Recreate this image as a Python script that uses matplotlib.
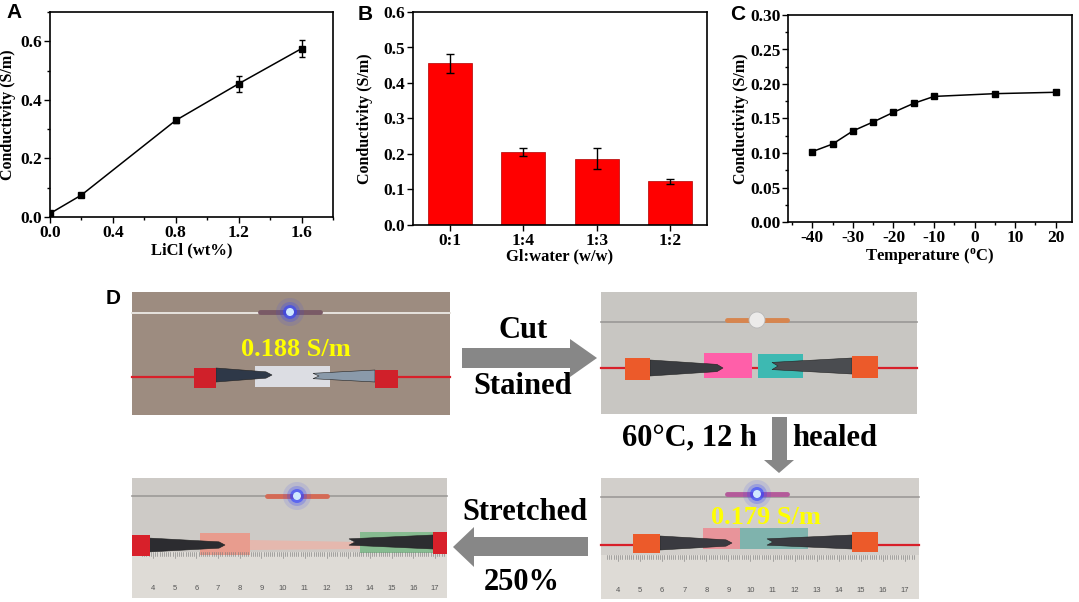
import matplotlib
matplotlib.use("Agg")
import matplotlib.pyplot as plt
from matplotlib.patches import Rectangle, Polygon, Circle
from matplotlib.ticker import MultipleLocator, FormatStrFormatter

# ---------------- data ----------------
licl_wt = [0.0, 0.2, 0.8, 1.2, 1.6]
licl_cond = [0.012, 0.075, 0.330, 0.455, 0.575]
licl_err = [0.0, 0.008, 0.008, 0.028, 0.030]

ratio_labels = ["0:1", "1:4", "1:3", "1:2"]
ratio_cond = [0.455, 0.205, 0.187, 0.123]
ratio_err = [0.028, 0.012, 0.030, 0.007]

temp_c = [-40, -35, -30, -25, -20, -15, -10, 5, 20]
temp_cond = [0.102, 0.113, 0.132, 0.145, 0.159, 0.172, 0.182, 0.186, 0.188]

ruler_numbers = list(range(4, 18))
cond_before = "0.188 S/m"
cond_after = "0.179 S/m"

W, H = 1079, 602
plt.rcParams['font.family'] = ['Liberation Serif', 'DejaVu Serif']
plt.rcParams['font.weight'] = 'bold'
plt.rcParams['axes.labelweight'] = 'bold'
plt.rcParams['axes.unicode_minus'] = False

fig = plt.figure(figsize=(W / 100, H / 100), dpi=100)

# ---------- overlay in pixel coordinates for panel D ----------
ov = fig.add_axes([0, 0, 1, 1])
ov.set_xlim(0, W)
ov.set_ylim(H, 0)
ov.axis('off')


def rect(x0, y0, x1, y1, color, z=1, **kw):
    ov.add_patch(Rectangle((x0, y0), x1 - x0, y1 - y0, facecolor=color,
                           edgecolor='none', zorder=z, **kw))


def clamp(x_base, x_tip, yc, half, color):
    ov.add_patch(Polygon([(x_base, yc - half), (x_tip - 6, yc - half * 0.45),
                          (x_tip, yc), (x_tip - 6, yc + half * 0.45),
                          (x_base, yc + half)], closed=True,
                         facecolor=color, edgecolor='#222222', lw=0.4, zorder=5))


def led(x, y, lit, lead_color):
    ov.plot([x - 30, x + 30], [y, y], color=lead_color, lw=3.5,
            solid_capstyle='round', zorder=4)
    if lit:
        for r, a in [(14, 0.12), (10, 0.25), (7, 0.6)]:
            ov.add_patch(Circle((x, y), r, facecolor='#3344ff', alpha=a,
                                edgecolor='none', zorder=5))
        ov.add_patch(Circle((x, y), 4, facecolor='#cfe8ff', edgecolor='none', zorder=6))
    else:
        ov.add_patch(Circle((x, y), 8, facecolor='#ecebea', edgecolor='#b8b8b8',
                            lw=0.6, zorder=5))


def ruler(x0, x1, y0, y1, nx0, nx1):
    rect(x0, y0, x1, y1, '#dedbd6', z=2)
    step = (nx1 - nx0) / (len(ruler_numbers) - 1)
    for i, n in enumerate(ruler_numbers):
        xc = nx0 + i * step
        ov.text(xc, y1 - 9, str(n), fontsize=5.5, family='Liberation Sans',
                weight='normal', color='#555555', ha='center', va='center', zorder=3)
        for k in range(10):
            xm = xc - step / 2 + k * step / 10
            if x0 < xm < x1:
                ln = 6 if k == 5 else 3.5
                ov.plot([xm, xm], [y0, y0 + ln], color='#777777', lw=0.4, zorder=3)


# Photo 1
rect(132, 292, 450, 415, '#9d8c80')
ov.plot([132, 450], [313, 313], color='#e6e3de', lw=1.4, zorder=2)
led(290, 312, True, '#7a5a66')
ov.plot([132, 450], [377, 377], color='#d8202a', lw=1.6, zorder=2)
rect(255, 366, 330, 387, '#dcdde3', z=3)
rect(194, 368, 216, 388, '#d0202a', z=6)
clamp(216, 272, 375, 7, '#2e3848')
clamp(375, 319, 376, 6, '#8a9aaa')
rect(375, 370, 398, 388, '#d0202a', z=6)
ov.text(296, 350, cond_before, fontsize=19, color='#ffff00', ha='center',
        va='center', zorder=8)

# Photo 2
rect(601, 292, 917, 414, '#c8c6c2')
ov.plot([601, 917], [322, 322], color='#9a9896', lw=1.2, zorder=2)
led(757, 320, False, '#d7854e')
ov.plot([601, 917], [368, 368], color='#d8202a', lw=1.6, zorder=2)
rect(704, 353, 752, 378, '#ff5fa9', z=3)
rect(758, 354, 803, 378, '#3db9b2', z=3)
rect(625, 358, 650, 380, '#ec5a2a', z=6)
clamp(650, 723, 368, 8, '#3a3c40')
clamp(852, 778, 366, 8, '#4a4c50')
rect(852, 356, 878, 378, '#ec5a2a', z=6)

# Photo 3 (stretched)
rect(132, 478, 447, 598, '#cdcac6')
ov.plot([132, 447], [496, 496], color='#9c9a98', lw=1.2, zorder=2)
led(297, 496, True, '#d46a55')
ov.add_patch(Polygon([(200, 533), (250, 540), (360, 542), (433, 532),
                      (433, 553), (360, 549), (250, 550), (200, 555)],
                     closed=True, facecolor='#e5b8ae', edgecolor='none', zorder=3))
rect(200, 533, 250, 555, '#e89c8e', z=3)
rect(360, 532, 433, 553, '#86bb90', z=3)
ruler(132, 447, 552, 598, 153, 435)
rect(132, 535, 150, 556, '#d8202a', z=6)
clamp(148, 225, 545, 7, '#2c2c30')
clamp(433, 355, 542, 7, '#2c2c30')
rect(433, 532, 447, 554, '#d8202a', z=6)

# Photo 4 (healed)
rect(601, 478, 919, 599, '#d2cfcb')
ov.plot([601, 919], [497, 497], color='#9c9a98', lw=1.2, zorder=2)
led(757, 494, True, '#b45a9a')
ov.plot([601, 919], [545, 545], color='#d8202a', lw=1.6, zorder=2)
rect(703, 528, 740, 549, '#e8949a', z=3)
rect(740, 528, 808, 549, '#7fb3ad', z=3)
ruler(601, 919, 555, 599, 618, 905)
rect(633, 534, 660, 553, '#ec5a2a', z=6)
clamp(660, 732, 543, 7, '#3a3a40')
clamp(852, 773, 542, 7, '#3a3a40')
rect(852, 532, 878, 552, '#ec5a2a', z=6)
ov.text(766, 518, cond_after, fontsize=19, color='#ffff00', ha='center',
        va='center', zorder=8)

# Arrows
grey = '#878787'
ov.add_patch(Polygon([(462, 348), (570, 348), (570, 339), (597, 358), (570, 377),
                      (570, 368), (462, 368)], closed=True, facecolor=grey,
                     edgecolor='none'))
ov.add_patch(Polygon([(772, 417), (787, 417), (787, 460), (794, 460), (779, 473),
                      (764, 460), (772, 460)], closed=True, facecolor=grey,
                     edgecolor='none'))
ov.add_patch(Polygon([(588, 537), (474, 537), (474, 527), (453, 547), (474, 567),
                      (474, 556), (588, 556)], closed=True, facecolor=grey,
                     edgecolor='none'))

ov.text(523, 330, "Cut", fontsize=22, ha='center', va='center')
ov.text(523, 387, "Stained", fontsize=22, ha='center', va='center')
ov.text(690, 438, "60°C, 12 h", fontsize=22, ha='center', va='center')
ov.text(835, 438, "healed", fontsize=22, ha='center', va='center')
ov.text(525, 512, "Stretched", fontsize=22, ha='center', va='center')
ov.text(522, 583, "250%", fontsize=22, ha='center', va='center')

for lab, (x, y) in zip("ABCD", [(14, 13), (365, 14), (738, 15), (113, 298)]):
    ov.text(x, y, lab, fontsize=15, family='Liberation Sans', weight='bold',
            ha='center', va='center')


# ---------- charts ----------
def px_axes(l, r, t, b):
    return fig.add_axes([l / W, (H - b) / H, (r - l) / W, (b - t) / H])


def style(ax, ylab_right_px, left_px, width_px):
    for s in ax.spines.values():
        s.set_linewidth(1.2)
    ax.tick_params(which='both', direction='out', top=False, right=False,
                   labelsize=12.5, width=1.0, pad=1.5)
    ax.tick_params(which='major', length=4)
    ax.tick_params(which='minor', length=2.5)
    ax.patch.set_facecolor('white')
    ax.yaxis.set_label_coords((ylab_right_px - left_px) / width_px, 0.5)


axA = px_axes(50, 333, 12, 217)
axA.errorbar(licl_wt, licl_cond, yerr=licl_err, color='black', lw=1.1,
             marker='s', ms=4, capsize=2.5, elinewidth=1.0, capthick=1.0)
axA.set_xlim(0, 1.8)
axA.set_ylim(0, 0.7)
axA.xaxis.set_major_locator(MultipleLocator(0.4))
axA.xaxis.set_minor_locator(MultipleLocator(0.2))
axA.yaxis.set_major_locator(MultipleLocator(0.2))
axA.yaxis.set_minor_locator(MultipleLocator(0.1))
axA.set_xlabel("LiCl (wt%)", fontsize=12, labelpad=1)
axA.set_ylabel("Conductivity (S/m)", fontsize=11.5)
style(axA, 16, 50, 283)

axB = px_axes(413, 707, 12, 225)
xb = list(range(1, len(ratio_labels) + 1))
axB.bar(xb, ratio_cond, width=0.6, color='#ff0000', edgecolor='#b00000',
        lw=0.5, yerr=ratio_err, capsize=3,
        error_kw=dict(elinewidth=1.0, capthick=1.0, ecolor='black'))
axB.set_xlim(0.5, 4.5)
axB.set_ylim(0, 0.6)
axB.set_xticks(xb)
axB.set_xticklabels(ratio_labels)
axB.yaxis.set_major_locator(MultipleLocator(0.1))
axB.set_xlabel("Gl:water (w/w)", fontsize=12, labelpad=0)
axB.set_ylabel("Conductivity (S/m)", fontsize=11.5)
style(axB, 373, 413, 294)

axC = px_axes(788, 1072, 15, 222)
axC.plot(temp_c, temp_cond, color='black', lw=1.1, marker='s', ms=4)
axC.set_xlim(-46, 24)
axC.set_ylim(0, 0.30)
axC.xaxis.set_major_locator(MultipleLocator(10))
axC.xaxis.set_minor_locator(MultipleLocator(5))
axC.yaxis.set_major_locator(MultipleLocator(0.05))
axC.yaxis.set_minor_locator(MultipleLocator(0.025))
axC.yaxis.set_major_formatter(FormatStrFormatter('%.2f'))
axC.set_xlabel("Temperature ($\\mathregular{^{o}}$C)", fontsize=12, labelpad=0)
axC.set_ylabel("Conductivity (S/m)", fontsize=11.5)
style(axC, 749, 788, 284)

fig.savefig("out.png", dpi=100)
